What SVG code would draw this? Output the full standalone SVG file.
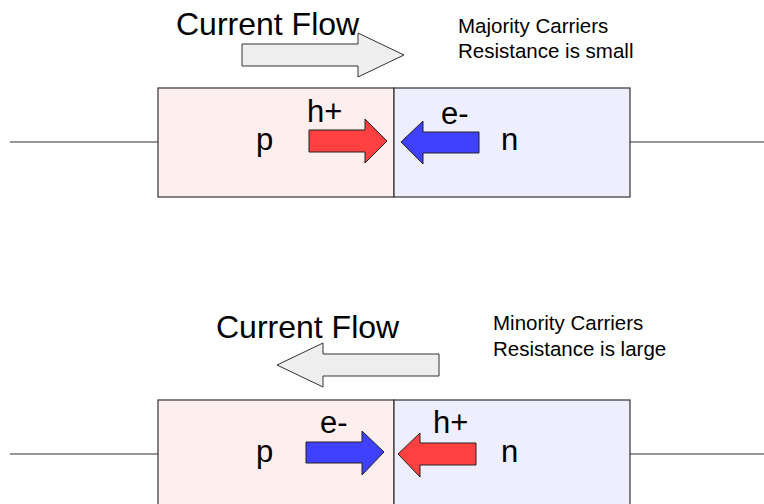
<svg xmlns="http://www.w3.org/2000/svg" width="764" height="504" viewBox="0 0 764 504">
<style>
.wire{stroke:#333;stroke-width:1.2;fill:none}
.pbox{fill:#feeeee;stroke:#333;stroke-width:1.2}
.nbox{fill:#eeeefe;stroke:#333;stroke-width:1.2}
.big{font-family:"Liberation Sans",Arial,sans-serif;font-size:32px;fill:#000}
.lbl{font-family:"Liberation Sans",Arial,sans-serif;font-size:31px;fill:#000}
.note{font-family:"Liberation Sans",Arial,sans-serif;font-size:20.5px;fill:#000}
.flow{fill:#eeeeee;stroke:#333;stroke-width:1}
.red{fill:#ff4040;stroke:#222;stroke-width:1}
.blue{fill:#4040ff;stroke:#222;stroke-width:1}
</style>
<g id="connectors">
<line class="wire" x1="10" y1="142" x2="158" y2="142"/>
<line class="wire" x1="630" y1="142" x2="764" y2="142"/>
<line class="wire" x1="10" y1="454" x2="158" y2="454"/>
<line class="wire" x1="630" y1="454" x2="764" y2="454"/>
</g>
<g id="top-junction">
<rect class="pbox" x="158" y="88" width="236" height="109"/>
<rect class="nbox" x="394" y="88" width="236" height="109"/>
<text class="lbl" x="256" y="150">p</text>
<text class="lbl" x="501" y="150">n</text>
</g>
<g id="top-hole">
<text class="lbl" x="307" y="122">h+</text>
<polygon class="red" points="309,130 365,130 365,119 387,141 365,163 365,152 309,152"/>
</g>
<g id="top-electron">
<text class="lbl" x="441" y="124">e-</text>
<polygon class="blue" points="479,132 423,132 423,121 401,142 423,164 423,153 479,153"/>
</g>
<g id="top-flow">
<text class="big" x="176" y="35">Current Flow</text>
<polygon class="flow" points="242,44 358,44 358,33 404,55 358,77 358,66 242,66"/>
</g>
<g id="top-note">
<text class="note" x="458" y="33">Majority Carriers</text>
<text class="note" x="458" y="58">Resistance is small</text>
</g>
<g id="bottom-junction">
<rect class="pbox" x="158" y="400" width="236" height="110"/>
<rect class="nbox" x="394" y="400" width="236" height="110"/>
<text class="lbl" x="256" y="462">p</text>
<text class="lbl" x="501" y="462">n</text>
</g>
<g id="bottom-electron">
<text class="lbl" x="320" y="433">e-</text>
<polygon class="blue" points="306,442 362,442 362,431 384,452 362,475 362,463 306,463"/>
</g>
<g id="bottom-hole">
<text class="lbl" x="433" y="433">h+</text>
<polygon class="red" points="476,443 420,443 420,433 398,454 420,477 420,465 476,465"/>
</g>
<g id="bottom-flow">
<text class="big" x="216" y="338">Current Flow</text>
<polygon class="flow" points="439,354 323,354 323,343 277,365 323,387 323,376 439,376"/>
</g>
<g id="bottom-note">
<text class="note" x="493" y="330">Minority Carriers</text>
<text class="note" x="493" y="356">Resistance is large</text>
</g>
</svg>
